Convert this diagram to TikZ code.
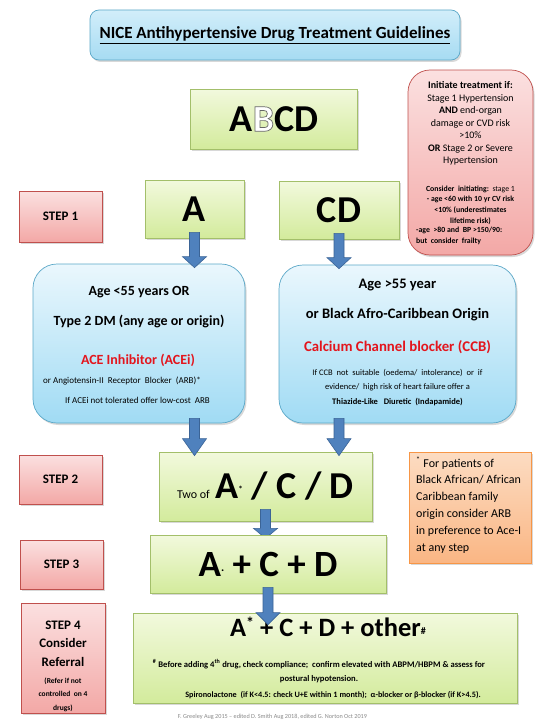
\documentclass[tikz,border=0pt]{standalone}
\usepackage{fontspec}
\setmainfont{Carlito}
\usetikzlibrary{shadows,calc}
\definecolor{bluedraw}{HTML}{5BA8C8}
\definecolor{bluetop}{HTML}{EAF7FD}
\definecolor{bluebot}{HTML}{A0DBF4}
\definecolor{titletop}{HTML}{D2EEFA}
\definecolor{titlebot}{HTML}{A6DBF2}
\definecolor{greendraw}{HTML}{A3BF6A}
\definecolor{greentop}{HTML}{F2F9DD}
\definecolor{greenbot}{HTML}{D3EB9C}
\definecolor{pinkdraw}{HTML}{C0504D}
\definecolor{pinktop}{HTML}{FBE0E0}
\definecolor{pinkbot}{HTML}{F3A8A6}
\definecolor{orgdraw}{HTML}{F79646}
\definecolor{orgtop}{HTML}{FCDCC2}
\definecolor{orgbot}{HTML}{FAB684}
\definecolor{arrfill}{HTML}{4F81BD}
\definecolor{arrdraw}{HTML}{3B6496}
\definecolor{redtxt}{HTML}{E3151D}
\definecolor{foot}{HTML}{8A8A8A}
\newcommand\fz[2]{\fontsize{#1}{#2}\selectfont}
\newcommand\outlineB{\textcolor{white}{\special{pdf:literal direct q 2 Tr 0.7 w 1 1 1 rg 0.4 0.4 0.4 RG}B\special{pdf:literal direct Q}}}
% block arrow from #2 (top of shaft) to #3 (tip), head length #1
\newcommand\blkarrow[3][12]{%
  \path[fill=arrfill,draw=arrdraw,line width=0.6pt,line join=miter]
    let \p1=(#2), \p2=(#3) in
    (\x1-5pt,\y1) -- (\x1+5pt,\y1) -- (\x1+5pt,\y2+#1pt) -- (\x1+12pt,\y2+#1pt)
    -- (\x1,\y2) -- (\x1-12pt,\y2+#1pt) -- (\x1-5pt,\y2+#1pt) -- cycle;}
\begin{document}
\begin{tikzpicture}[x=1pt,y=-1pt,
  box/.style={draw, line width=0.7pt, inner sep=0pt,
    drop shadow={shadow xshift=1.5pt, shadow yshift=-2pt, opacity=0.3}},
  greenbox/.style={box, draw=greendraw, top color=greentop, bottom color=greenbot},
  pinkbox/.style={box, draw=pinkdraw, top color=pinktop, bottom color=pinkbot},
  bluebox/.style={box, draw=bluedraw, top color=bluetop, bottom color=bluebot, rounded corners=24pt},
  titlebox/.style={box, draw=bluedraw, top color=titletop, bottom color=titlebot, rounded corners=9pt},
  orgbox/.style={box, draw=orgdraw, top color=orgtop, bottom color=orgbot},
  wh/.style 2 args={minimum width=#1, minimum height=#2},
  txt/.style={inner sep=0pt}
]
\useasboundingbox (0,0) rectangle (538,725);
\fill[white] (0,0) rectangle (538,725);

% title
\node[titlebox, wh={370pt}{50pt}, font=\fz{17}{20}\bfseries] (title) at (275,35)
  {\underline{NICE Antihypertensive Drug Treatment Guidelines}};

% ABCD
\node[greenbox, wh={167pt}{60pt}, font=\fz{38}{40}\bfseries] (abcd) at (274,119)
  {A\outlineB CD};

% initiate box
\node[pinkbox, rounded corners=22pt, wh={125pt}{185pt}] (init) at (470.5,162.5) {};
\node[txt, align=center, font=\fz{10}{12.5}] (initmain) at (470.5,123.5) {%
  \textbf{Initiate treatment if:}\\ Stage 1 Hypertension\\ \textbf{AND} end-organ\\
  damage or CVD risk\\ >10\%\\ \textbf{OR} Stage 2 or Severe\\ Hypertension};
\node[txt, align=center, font=\fz{7.8}{10.6}\bfseries] (initsmall) at (470.5,205) {%
  Consider\ \ initiating:\ \ {\mdseries stage 1}\\ - age <60 with 10 yr CV risk\\
  <10\% (underestimates\\ lifetime risk)};
\node[txt, align=left, anchor=west, font=\fz{7.8}{10.6}\bfseries] (initsmall2) at (416,236) {%
  -age\ \ >80\ and\ \ BP >150/90:\\ but\ \ consider\ \ frailty};

% step 1
\node[pinkbox, wh={83pt}{51pt}, font=\fz{13}{15}\bfseries] (step1) at (60.5,216.5) {STEP\ 1};
\node[greenbox, wh={99pt}{58pt}, font=\fz{38}{40}\bfseries] (A) at (194.5,209) {A};
\node[greenbox, wh={120pt}{58pt}, font=\fz{38}{40}\bfseries] (CD) at (339,210) {CD};

% blue boxes
\node[bluebox, wh={212pt}{159pt}] (leftb) at (139,343.5) {};
\node[txt, align=center, font=\fz{14}{30}\bfseries] (lt1) at (139,307) {%
  Age <55 years OR\\ Type 2 DM (any age or origin)};
\node[txt, font=\fz{14}{16}\bfseries, text=redtxt] (lt2) at (138,360) {ACE Inhibitor (ACEi)};
\node[txt, font=\fz{9}{10}] (lt3) at (122,381) {or Angiotensin-II\ \ Receptor\ \ Blocker\ \ (ARB)*};
\node[txt, font=\fz{9}{10}] (lt4) at (137.5,400) {If ACEi\ not tolerated\ offer\ low-cost\ \ ARB};

\node[bluebox, wh={237pt}{158pt}] (rightb) at (397.5,344) {};
\node[txt, align=center, font=\fz{14.5}{30}\bfseries] (rt1) at (397.5,300) {%
  Age >55 year\\ or Black Afro-Caribbean Origin};
\node[txt, font=\fz{14.8}{16}\bfseries, text=redtxt] (rt2) at (397.5,347) {Calcium Channel blocker (CCB)};
\node[txt, align=center, font=\fz{8.5}{14.5}] (rt3) at (397.5,387.5) {%
  If CCB\ \ not\ \ suitable\ \ (oedema/\ \ intolerance)\ \ or\ \ if\\
  evidence/\ \ high risk of heart failure offer a\\
  \textbf{Thiazide-Like\ \ \ Diuretic\ \ (Indapamide)}};

% step 2
\node[pinkbox, wh={83pt}{49pt}, font=\fz{13}{15}\bfseries] (step2) at (60.5,479.5) {STEP\ 2};
\node[greenbox, wh={213pt}{69pt}] (two) at (265.5,486.5)
  {\fz{12}{14}Two of\ \ \fz{38}{40}\bfseries A\raisebox{6pt}{\fz{9}{9}*}\ / C / D};
\node[orgbox, wh={122pt}{111pt}] (note) at (470,507.5) {};
\node[txt, align=left, anchor=west, font=\fz{12}{16.8}] (notetxt) at (416,505) {%
  \textsuperscript{*} For patients of\\ Black African/ African\\ Caribbean family\\
  origin consider ARB\\ in preference to Ace-I\\ at any step};

% arrow behind A+C+D box
\blkarrow[10]{[yshift=12pt]two.south}{[yshift=-17pt]two.south}

% step 3
\node[pinkbox, wh={83pt}{49pt}, font=\fz{13}{15}\bfseries] (step3) at (61.5,564.5) {STEP\ 3};
\node[greenbox, wh={236pt}{58pt}, font=\fz{37}{40}\bfseries] (acd) at (268,564)
  {A\raisebox{5pt}{\fz{12}{12}.}\ + C + D};

% step 4
\node[pinkbox, wh={84pt}{110pt}] (step4) at (63,658) {};
\node[txt, align=center, font=\fz{13}{18.5}\bfseries] (s4a) at (63,643.5) {STEP\ 4\\ Consider\\ Referral};
\node[txt, align=center, font=\fz{7.5}{13.5}\bfseries] (s4b) at (63,694.5) {%
  (Refer if not\\ controlled\ \ on 4\\ drugs)};

\node[greenbox, wh={384pt}{90pt}] (fin) at (325.5,658) {};
\node[txt, font=\fz{26.5}{28}\bfseries] (fin1) at (328,627) {%
  A\raisebox{8pt}{\fz{16}{16}*}\ + C + D + other\raisebox{2pt}{\fz{10}{10}\#}};
\node[txt, align=center, font=\fz{8.6}{14}\bfseries] (fin2) at (319,671) {%
  \textsuperscript{\#} Before adding 4\textsuperscript{th} drug, check compliance;\ \ confirm elevated with ABPM/HBPM \&\ assess for\\
  postural hypotension.};
\node[txt, font=\fz{8.2}{9}\bfseries] (fin3) at (333,695) {%
  Spironolactone\ \ (if K<4.5: check U+E within 1 month);\ \ α-blocker or β-blocker (if K>4.5).};

\node[txt, font=\fz{6.2}{7}, text=foot] (footer) at (272.5,717) {%
  F. Greeley Aug 2015 – edited D. Smith Aug 2018, edited G. Norton Oct 2019};

% arrows
\blkarrow[11]{[yshift=6pt]A.south}{[yshift=-4pt]A.south |- leftb.north}
\blkarrow[11]{[yshift=6pt]CD.south}{[yshift=-4pt]CD.south |- rightb.north}
\blkarrow[17]{[yshift=5pt]A.south |- leftb.south}{[yshift=-4pt]A.south |- two.north}
\blkarrow[17]{[yshift=5pt]CD.south |- rightb.south}{[yshift=-4pt]CD.south |- two.north}
\blkarrow[12]{[yshift=6pt]acd.south}{[yshift=-12pt]acd.south |- fin.north}
\end{tikzpicture}
\end{document}
